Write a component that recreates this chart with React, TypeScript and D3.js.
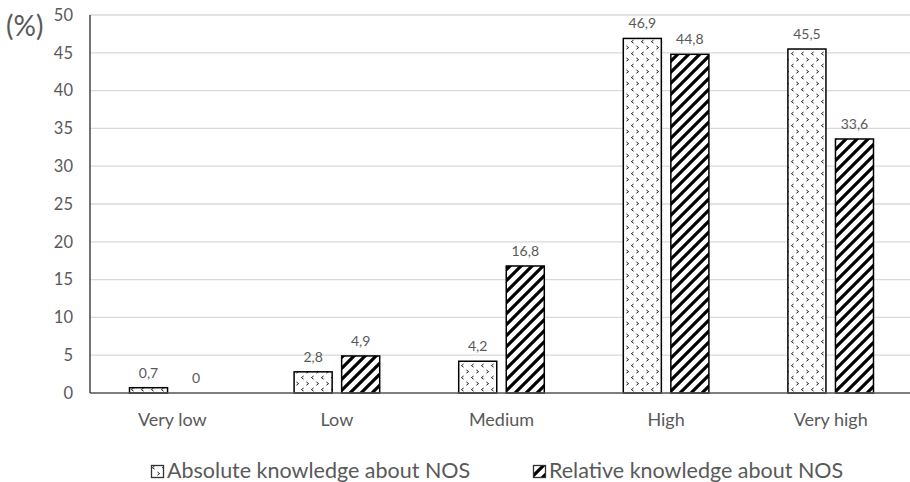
import React from "react";
import * as d3 from "d3";

const WIDTH = 910;
const HEIGHT = 482;
const MARGIN = { top: 15, right: -3, bottom: 89, left: 90 };

const categories = ["Very low", "Low", "Medium", "High", "Very high"];
const absoluteValues = [0.7, 2.8, 4.2, 46.9, 45.5];
const relativeValues = [0, 4.9, 16.8, 44.8, 33.6];
const yTicks = [0, 5, 10, 15, 20, 25, 30, 35, 40, 45, 50];
const seriesNames = ["Absolute knowledge about NOS", "Relative knowledge about NOS"];

const FONT = "Lato, 'Open Sans', sans-serif";
const TEXT = "#595959";

const fmt = (v: number) => String(v).replace(".", ",");

export default function App() {
  const boundsWidth = WIDTH - MARGIN.left - MARGIN.right;
  const boundsHeight = HEIGHT - MARGIN.top - MARGIN.bottom;

  const xScale = d3.scaleBand().domain(categories).range([0, boundsWidth]).padding(0);
  const xInner = d3
    .scaleBand()
    .domain(["abs", "rel"])
    .range([xScale.bandwidth() * 0.24, xScale.bandwidth() * 0.76])
    .paddingInner(0.2);
  const yScale = d3.scaleLinear().domain([0, 50]).range([boundsHeight, 0]);

  const series = [
    { key: "abs", values: absoluteValues, fill: "url(#dots)" },
    { key: "rel", values: relativeValues, fill: "url(#stripes)" },
  ];

  return (
    <svg
      width={WIDTH}
      height={HEIGHT}
      style={{ position: "absolute", left: 0, top: 0, background: "#fff" }}
    >
      <defs>
        <pattern id="dots" width="10" height="12" patternUnits="userSpaceOnUse">
          <rect width="10" height="12" fill="#fff" />
          <path d="M3.6,1 L1.4,2.6 L3.6,4.2" fill="none" stroke="#222" strokeWidth="1" />
          <path d="M6.4,7 L8.6,8.6 L6.4,10.2" fill="none" stroke="#222" strokeWidth="1" />
        </pattern>
        <pattern id="stripes" width="11" height="11" patternUnits="userSpaceOnUse">
          <rect width="11" height="11" fill="#fff" />
          <path
            d="M-2.75,2.75 L2.75,-2.75 M0,11 L11,0 M8.25,13.75 L13.75,8.25"
            stroke="#000"
            strokeWidth="3.2"
          />
        </pattern>
      </defs>

      <text x={6} y={36} fontSize={28} fill={TEXT} fontFamily={FONT}>
        (%)
      </text>

      <g transform={`translate(${MARGIN.left},${MARGIN.top})`}>
        {yTicks.map((t) => (
          <g key={t}>
            {t > 0 && (
              <line x1={0} x2={boundsWidth} y1={yScale(t)} y2={yScale(t)} stroke="#d9d9d9" strokeWidth={1.3} />
            )}
            <text
              x={-17}
              y={yScale(t)}
              dy="0.35em"
              textAnchor="end"
              fontSize={16.5}
              fill={TEXT}
              fontFamily={FONT}
            >
              {t}
            </text>
          </g>
        ))}

        {series.map((s) =>
          s.values.map((v, i) => {
            const x = (xScale(categories[i]) ?? 0) + (xInner(s.key) ?? 0);
            const w = xInner.bandwidth();
            const y = yScale(v);
            return (
              <g key={`${s.key}_${i}`}>
                {v > 0 && (
                  <rect
                    x={x}
                    y={y}
                    width={w}
                    height={boundsHeight - y}
                    fill={s.fill}
                    stroke="#000"
                    strokeWidth={1.5}
                  />
                )}
                <text
                  x={x + w / 2}
                  y={y - 10}
                  textAnchor="middle"
                  fontSize={14}
                  fill={TEXT}
                  fontFamily={FONT}
                >
                  {fmt(v)}
                </text>
              </g>
            );
          })
        )}

        <line x1={0} x2={boundsWidth} y1={boundsHeight} y2={boundsHeight} stroke="#555" strokeWidth={1.5} />
        <line x1={0} x2={0} y1={0} y2={boundsHeight} stroke="#444" strokeWidth={1.5} />

        {categories.map((c) => (
          <text
            key={c}
            x={(xScale(c) ?? 0) + xScale.bandwidth() / 2}
            y={boundsHeight + 33}
            textAnchor="middle"
            fontSize={18}
            fill={TEXT}
            fontFamily={FONT}
          >
            {c}
          </text>
        ))}
      </g>

      {seriesNames.map((name, i) => {
        const lx = i === 0 ? 151 : 533;
        return (
          <g key={name} transform={`translate(${lx},465)`}>
            <rect
              x={0.5}
              y={0.5}
              width={12}
              height={12}
              fill={i === 0 ? "url(#dots)" : "url(#stripes)"}
              stroke="#333"
              strokeWidth={1.3}
            />
            <text x={16} y={12.5} fontSize={21.5} fill={TEXT} fontFamily={FONT}>
              {name}
            </text>
          </g>
        );
      })}
    </svg>
  );
}
